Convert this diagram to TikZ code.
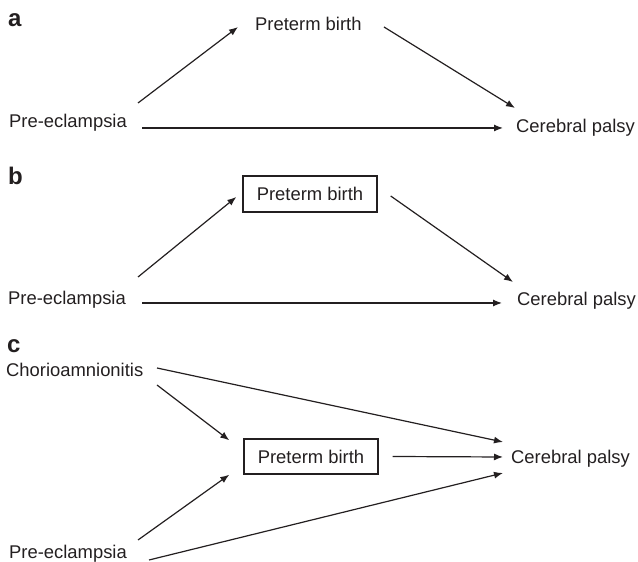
\documentclass[tikz,border=0pt]{standalone}
\usepackage{fontspec}
\setmainfont{Liberation Sans}
\usetikzlibrary{arrows.meta}
\definecolor{ink}{HTML}{231F20}
\begin{document}
\begin{tikzpicture}[x=1pt,y=1pt,
  lbl/.style={font=\fontsize{18.4}{22}\selectfont, inner sep=0pt, anchor=base west, text=ink},
  panel/.style={font=\fontsize{24}{28}\selectfont\bfseries, inner sep=0pt, anchor=base west, text=ink},
  pbox/.style={draw=ink, line width=1.4pt, font=\fontsize{18.4}{22}\selectfont, text=ink,
               minimum width=134pt, minimum height=36pt, inner sep=0pt},
  arr/.style={draw=ink, line width=1.2pt, -{Latex[length=9pt,width=7pt]}}]
\useasboundingbox (0,0) rectangle (638,562);
% ---------------- panel a
\node[panel] (la) at (8,535) {a};
\node[lbl] (pa) at (9,434) {Pre-eclampsia};
\node[lbl] (pba) at (255,531) {Preterm birth};
\node[lbl] (cpa) at (516,429) {Cerebral palsy};
\draw[arr] ([shift={(129,25)}]pa.base west) -- ([shift={(-17,4)}]pba.base west);
\draw[arr] ([shift={(129,4)}]pba.base west) -- ([shift={(-1,25)}]cpa.base west);
\draw[arr] ([shift={(133,0)}]pa.base west) -- ([shift={(-13,5)}]cpa.base west);
% ---------------- panel b
\node[panel] (lb) at (8,377) {b};
\node[lbl] (pb) at (8,257) {Pre-eclampsia};
\node[pbox] (pbb) at (310,368) {Preterm birth};
\node[lbl] (cpb) at (517,256) {Cerebral palsy};
\draw[arr] ([shift={(130,28)}]pb.base west) -- ([shift={(-6,-3)}]pbb.west);
\draw[arr] ([shift={(13,-2)}]pbb.east) -- ([shift={(-4,24)}]cpb.base west);
\draw[arr] ([shift={(134,2)}]pb.base west) -- ([shift={(-15,3)}]cpb.base west);
% ---------------- panel c
\node[panel] (lc) at (7,209) {c};
\node[lbl] (ch) at (6,185) {Chorioamnionitis};
\node[pbox, minimum height=35pt] (pbc) at (311,105.5) {Preterm birth};
\node[lbl] (cpc) at (511,98) {Cerebral palsy};
\node[lbl] (pc) at (9,3) {Pre-eclampsia};
\draw[arr] ([shift={(151,9)}]ch.base west) -- ([shift={(-8,22)}]cpc.base west);
\draw[arr] ([shift={(151,-8)}]ch.base west) -- ([shift={(-14,-2)}]pbc.north west);
\draw[arr] ([shift={(129,19)}]pc.base west) -- ([shift={(-14,0)}]pbc.south west);
\draw[arr] ([shift={(140,-1)}]pc.base west) -- ([shift={(-8,-9)}]cpc.base west);
\draw[arr] ([shift={(14,0)}]pbc.east) -- ([shift={(-8,7)}]cpc.base west);
\end{tikzpicture}
\end{document}
